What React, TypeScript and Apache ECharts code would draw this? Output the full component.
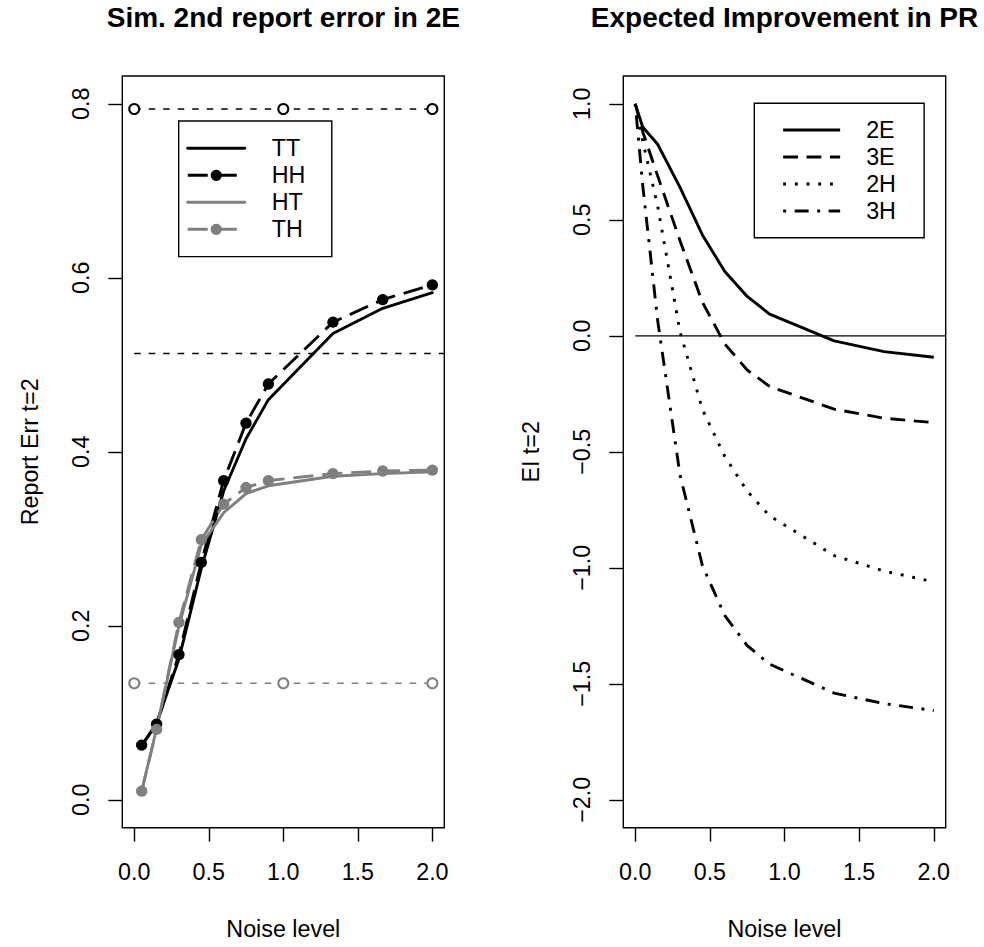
import { useEffect, useRef } from "react";
import * as echarts from "echarts";

// Noise levels used in the simulation (left panel) and for EI (right panel, starts at 0)
const noiseLevels = [0.05, 0.15, 0.3, 0.45, 0.6, 0.75, 0.9, 1.333, 1.667, 2.0];
const eiNoiseLevels = [0, 0.05, 0.15, 0.3, 0.45, 0.6, 0.75, 0.9, 1.333, 1.667, 2.0];

// Simulated 2nd report error, t=2
const errTT = [0.062, 0.088, 0.162, 0.266, 0.355, 0.415, 0.46, 0.536, 0.565, 0.583];
const errHH = [0.063, 0.087, 0.167, 0.273, 0.367, 0.433, 0.478, 0.549, 0.575, 0.592];
const errHT = [0.01, 0.082, 0.2, 0.293, 0.33, 0.352, 0.361, 0.372, 0.375, 0.377];
const errTH = [0.01, 0.081, 0.204, 0.299, 0.34, 0.359, 0.367, 0.375, 0.378, 0.379];

// Reference error levels
const refX = [0, 1, 2];
const refUpper = 0.794;
const refMiddle = 0.513;
const refLower = 0.134;

// Expected improvement in PR, t=2
const ei2E = [1.0, 0.9, 0.826, 0.64, 0.435, 0.277, 0.17, 0.094, -0.022, -0.068, -0.092];
const ei3E = [1.0, 0.88, 0.69, 0.41, 0.145, -0.035, -0.147, -0.218, -0.316, -0.355, -0.374];
const ei2H = [1.0, 0.84, 0.56, 0.018, -0.317, -0.52, -0.669, -0.776, -0.947, -1.014, -1.06];
const ei3H = [1.0, 0.65, 0.067, -0.6, -0.99, -1.206, -1.335, -1.415, -1.54, -1.585, -1.615];

// Axis ticks
const errTicks = [0, 0.2, 0.4, 0.6, 0.8];
const eiTicks = [-2, -1.5, -1, -0.5, 0, 0.5, 1];
const noiseTicks = [0, 0.5, 1, 1.5, 2];

// Legend entries; the ones drawn with point markers are flagged
const errLegend = ["TT", "HH", "HT", "TH"];
const errLegendMarked = ["HH", "TH"];
const eiLegend = ["2E", "3E", "2H", "3H"];

const X_MIN = -0.08;
const X_MAX = 2.08;

const FONT = "Liberation Sans, Arial, Helvetica, sans-serif";
const FS = 23.3;
const GRAY = "#7f7f7f";
const LW = 2.9;

const zip = (xs: number[], ys: number[]) => xs.map((x, i) => [x, ys[i]]);
const fmt = (v: number) => (v < 0 ? "\u2212" + Math.abs(v).toFixed(1) : v.toFixed(1));

function xAxis(gridIndex: number) {
  return {
    type: "value",
    gridIndex,
    min: X_MIN,
    max: X_MAX,
    name: "Noise level",
    nameLocation: "middle",
    nameGap: 90,
    nameTextStyle: { fontFamily: FONT, fontSize: FS, color: "#000", lineHeight: FS },
    axisLine: { show: false, onZero: false },
    splitLine: { show: false },
    axisTick: {
      show: true,
      customValues: noiseTicks,
      length: 14,
      lineStyle: { color: "#000", width: 1.4 },
    },
    axisLabel: {
      customValues: noiseTicks,
      formatter: fmt,
      margin: 32.5,
      fontFamily: FONT,
      fontSize: FS,
      lineHeight: FS,
      color: "#000",
    },
  };
}

function yAxis(gridIndex: number, min: number, max: number, ticks: number[], name: string) {
  return {
    type: "value",
    gridIndex,
    min,
    max,
    name,
    nameLocation: "middle",
    nameGap: 80.5,
    nameRotate: 90,
    nameTextStyle: { fontFamily: FONT, fontSize: FS, color: "#000", lineHeight: FS },
    axisLine: { show: false, onZero: false },
    splitLine: { show: false },
    axisTick: {
      show: true,
      customValues: ticks,
      length: 14,
      lineStyle: { color: "#000", width: 1.4 },
    },
    axisLabel: {
      customValues: ticks,
      formatter: fmt,
      rotate: 90,
      margin: 30,
      fontFamily: FONT,
      fontSize: FS,
      lineHeight: FS,
      color: "#000",
    },
  };
}

function legend(
  left: number,
  top: number,
  names: string[],
  marked: string[],
  padTop: number,
  padRight: number,
  padLeft: number,
  textGap: number
) {
  return {
    left,
    top,
    orient: "vertical",
    // entries without point markers show only their line
    data: names.map((name) =>
      marked.includes(name) ? { name } : { name, itemStyle: { opacity: 0 } }
    ),
    selectedMode: false,
    itemWidth: 57,
    itemHeight: 14,
    itemGap: 0,
    padding: [padTop, padRight, padTop, padLeft],
    borderColor: "#000",
    borderWidth: 1.4,
    borderRadius: 0,
    backgroundColor: "#fff",
    lineStyle: { width: LW },
    textStyle: {
      fontFamily: FONT,
      fontSize: FS,
      lineHeight: 27,
      color: "#000",
      padding: [0, 0, 0, textGap],
    },
  };
}

export default function App() {
  const ref = useRef<HTMLDivElement>(null);

  useEffect(() => {
    if (!ref.current) return;
    const chart = echarts.init(ref.current, undefined, { renderer: "svg" });

    const thinDash = [6.5, 8];
    const longDash = [20, 9];

    chart.setOption({
      animation: false,
      backgroundColor: "#fff",
      grid: [
        { left: 122.3, top: 76, width: 322, height: 751.7, show: true, borderColor: "#000", borderWidth: 1.4, backgroundColor: "transparent" },
        { left: 623.3, top: 76, width: 322.4, height: 751.7, show: true, borderColor: "#000", borderWidth: 1.4, backgroundColor: "transparent" },
      ],
      xAxis: [xAxis(0), xAxis(1)],
      yAxis: [
        yAxis(0, -0.032, 0.832, errTicks, "Report Err t=2"),
        yAxis(1, -2.12, 1.12, eiTicks, "EI t=2"),
      ],
      legend: [
        legend(178.7, 121, errLegend, errLegendMarked, 13.8, 26.4, 7.6, 22),
        legend(754.3, 103.3, eiLegend, [], 13.2, 28.2, 27.4, 21),
      ],
      graphic: [
        {
          type: "text",
          x: 283.3,
          y: 17.5,
          style: { text: "Sim. 2nd report error in 2E", fontFamily: FONT, fontSize: 28, fontWeight: "bold", fill: "#000", align: "center", verticalAlign: "middle" },
        },
        {
          type: "text",
          x: 784.5,
          y: 17.5,
          style: { text: "Expected Improvement in PR", fontFamily: FONT, fontSize: 28, fontWeight: "bold", fill: "#000", align: "center", verticalAlign: "middle" },
        },
      ],
      series: [
        {
          name: "upperRef",
          type: "line",
          xAxisIndex: 0,
          yAxisIndex: 0,
          data: zip(refX, refX.map(() => refUpper)),
          symbol: "emptyCircle",
          symbolSize: 10,
          itemStyle: { color: "#000", borderWidth: 1.4 },
          lineStyle: { color: "#000", width: 1.4, type: thinDash },
          silent: true,
        },
        {
          name: "middleRef",
          type: "line",
          xAxisIndex: 0,
          yAxisIndex: 0,
          data: [[0, refMiddle], [X_MAX, refMiddle]],
          symbol: "none",
          lineStyle: { color: "#000", width: 1.4, type: thinDash },
          silent: true,
        },
        {
          name: "lowerRef",
          type: "line",
          xAxisIndex: 0,
          yAxisIndex: 0,
          data: zip(refX, refX.map(() => refLower)),
          symbol: "emptyCircle",
          symbolSize: 10,
          itemStyle: { color: GRAY, borderWidth: 1.4 },
          lineStyle: { color: GRAY, width: 1.4, type: thinDash },
          silent: true,
        },
        {
          name: "TT",
          type: "line",
          xAxisIndex: 0,
          yAxisIndex: 0,
          data: zip(noiseLevels, errTT),
          symbol: "none",
          itemStyle: { color: "#000" },
          lineStyle: { color: "#000", width: LW, cap: "round", join: "round" },
        },
        {
          name: "HH",
          type: "line",
          xAxisIndex: 0,
          yAxisIndex: 0,
          data: zip(noiseLevels, errHH),
          symbol: "circle",
          symbolSize: 11.3,
          itemStyle: { color: "#000" },
          lineStyle: { color: "#000", width: LW, type: longDash },
        },
        {
          name: "HT",
          type: "line",
          xAxisIndex: 0,
          yAxisIndex: 0,
          data: zip(noiseLevels, errHT),
          symbol: "none",
          itemStyle: { color: GRAY },
          lineStyle: { color: GRAY, width: LW, cap: "round", join: "round" },
        },
        {
          name: "TH",
          type: "line",
          xAxisIndex: 0,
          yAxisIndex: 0,
          data: zip(noiseLevels, errTH),
          symbol: "circle",
          symbolSize: 11.3,
          itemStyle: { color: GRAY },
          lineStyle: { color: GRAY, width: LW, type: longDash },
        },
        {
          name: "zeroLine",
          type: "line",
          xAxisIndex: 1,
          yAxisIndex: 1,
          data: [[0, 0], [X_MAX, 0]],
          symbol: "none",
          lineStyle: { color: "#000", width: 1.4 },
          silent: true,
        },
        {
          name: "2E",
          type: "line",
          xAxisIndex: 1,
          yAxisIndex: 1,
          data: zip(eiNoiseLevels, ei2E),
          symbol: "none",
          itemStyle: { color: "#000" },
          lineStyle: { color: "#000", width: LW, join: "round" },
        },
        {
          name: "3E",
          type: "line",
          xAxisIndex: 1,
          yAxisIndex: 1,
          data: zip(eiNoiseLevels, ei3E),
          symbol: "none",
          itemStyle: { color: "#000" },
          lineStyle: { color: "#000", width: LW, type: [14.8, 8.6] },
        },
        {
          name: "2H",
          type: "line",
          xAxisIndex: 1,
          yAxisIndex: 1,
          data: zip(eiNoiseLevels, ei2H),
          symbol: "none",
          itemStyle: { color: "#000" },
          lineStyle: { color: "#000", width: LW, type: [2.9, 8.8] },
        },
        {
          name: "3H",
          type: "line",
          xAxisIndex: 1,
          yAxisIndex: 1,
          data: zip(eiNoiseLevels, ei3H),
          symbol: "none",
          itemStyle: { color: "#000" },
          lineStyle: { color: "#000", width: LW, type: [3, 8.5, 14, 8.5] },
        },
      ],
    });

    return () => chart.dispose();
  }, []);

  return (
    <div
      ref={ref}
      style={{ position: "fixed", left: 0, top: 0, width: 984, height: 947, background: "#fff" }}
    />
  );
}
